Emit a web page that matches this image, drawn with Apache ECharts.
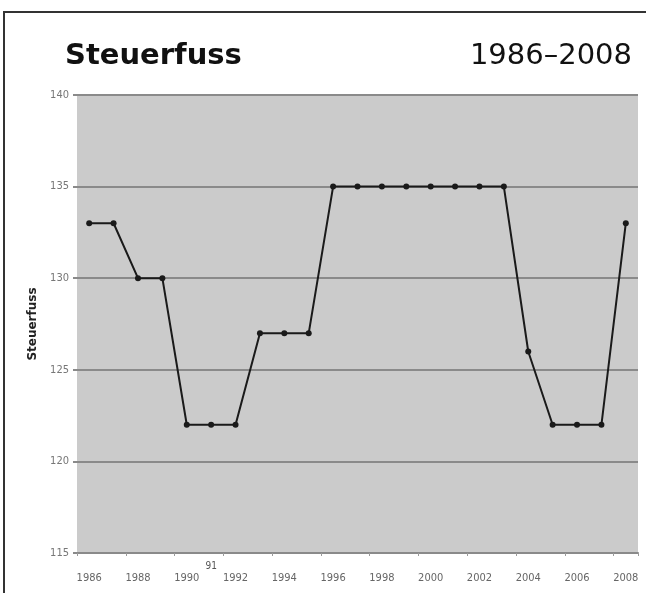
<!DOCTYPE html>
<html>
<head>
<meta charset="utf-8">
<script src="https://cdn.jsdelivr.net/npm/echarts@6/dist/echarts.min.js"></script>
<style>
  html, body { margin: 0; padding: 0; background: #fff; }
  #chart { position: absolute; left: 0; top: 0; width: 646px; height: 593px; }
  #frame { position: absolute; left: 3px; top: 11px; width: 643px; height: 582px;
    border-top: 2px solid #333; border-left: 2px solid #333; pointer-events: none; }
</style>
</head>
<body>
<div id="chart"></div>
<div id="frame"></div>
<script>
const years = ['1986', '1987', '1988', '1989', '1990', '1991', '1992', '1993', '1994', '1995',
  '1996', '1997', '1998', '1999', '2000', '2001', '2002', '2003', '2004', '2005', '2006', '2007', '2008']
const steuerfuss = [133, 133, 130, 130, 122, 122, 122, 127, 127, 127,
  135, 135, 135, 135, 135, 135, 135, 135, 126, 122, 122, 122, 133]
const yTicks = { min: 115, max: 140, interval: 5 }

const labelFont = "'Liberation Sans Narrow', 'DejaVu Sans Condensed', sans-serif"

const chart = echarts.init(document.getElementById('chart'))

chart.setOption({
  animation: false,
  title: [
    {
      text: 'Steuerfuss',
      left: 60,
      top: 37,
      textStyle: { fontFamily: 'DejaVu Sans', fontSize: 29, fontWeight: 'bold', color: '#111' }
    },
    {
      text: '1986–2008',
      right: 9,
      top: 37,
      textStyle: { fontFamily: 'DejaVu Sans', fontSize: 29, fontWeight: 'normal', color: '#111' }
    }
  ],
  grid: { left: 77, right: 8, top: 95, bottom: 40, show: true, backgroundColor: '#cbcbcb', borderWidth: 0 },
  xAxis: [
    {
      type: 'category',
      data: years,
      boundaryGap: true,
      axisLine: { lineStyle: { color: '#8a8a8a', width: 2 } },
      axisTick: { show: true, length: 3, lineStyle: { color: '#9a9a9a' } },
      axisLabel: {
        interval: 1,
        margin: 20,
        color: '#666',
        fontSize: 11,
        fontFamily: labelFont
      }
    },
    {
      type: 'category',
      data: years,
      position: 'bottom',
      boundaryGap: true,
      axisLine: { show: false },
      axisTick: { show: false },
      axisLabel: {
        interval: 0,
        margin: 8,
        color: '#555',
        fontSize: 10,
        fontFamily: labelFont,
        formatter: v => (v === '1991' ? '91' : '')
      }
    }
  ],
  yAxis: {
    type: 'value',
    min: yTicks.min,
    max: yTicks.max,
    interval: yTicks.interval,
    name: 'Steuerfuss',
    nameLocation: 'middle',
    nameGap: 38,
    nameTextStyle: { fontFamily: 'DejaVu Sans', fontWeight: 'bold', fontSize: 12, color: '#222' },
    axisLine: { show: false },
    axisTick: { show: true, length: 4, lineStyle: { color: '#8a8a8a', width: 2 } },
    axisLabel: { margin: 8, color: '#777', fontSize: 11, fontFamily: labelFont },
    splitLine: { lineStyle: { color: '#8a8a8a', width: 2 } }
  },
  series: [
    {
      type: 'line',
      data: steuerfuss,
      symbol: 'circle',
      symbolSize: 6,
      itemStyle: { color: '#1a1a1a' },
      lineStyle: { color: '#1a1a1a', width: 2 }
    }
  ]
})
</script>
</body>
</html>
